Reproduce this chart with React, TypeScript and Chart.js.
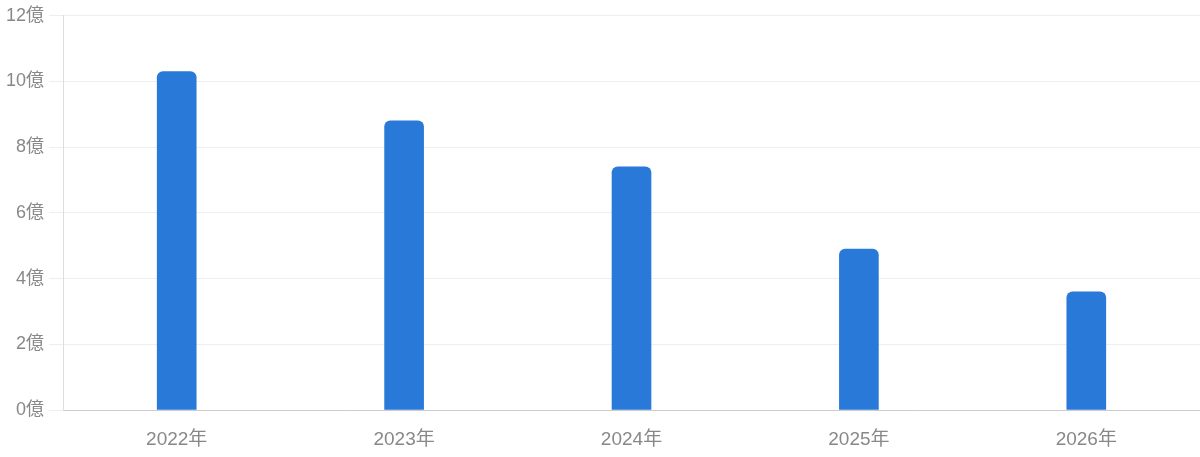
import React, { useEffect, useRef } from "react";
import { Chart, registerables } from "chart.js";

Chart.register(...registerables);

const categories = ["2022年", "2023年", "2024年", "2025年", "2026年"];
const values = [10.3, 8.8, 7.4, 4.9, 3.6];
const yTicks = [0, 2, 4, 6, 8, 10, 12];

const FONT = "'Liberation Sans', 'Noto Sans CJK JP', sans-serif";

export default function App() {
  const ref = useRef<HTMLCanvasElement | null>(null);

  useEffect(() => {
    document.body.style.margin = "0";
    if (!ref.current) return;
    const chart = new Chart(ref.current, {
      type: "bar",
      data: {
        labels: categories,
        datasets: [
          {
            data: values,
            backgroundColor: "#2979d8",
            borderRadius: { topLeft: 6, topRight: 6, bottomLeft: 0, bottomRight: 0 },
            borderSkipped: false,
            barThickness: 39,
          },
        ],
      },
      options: {
        animation: false,
        responsive: false,
        maintainAspectRatio: false,
        layout: { padding: { left: 0, top: 8, right: 0, bottom: 0 } },
        plugins: { legend: { display: false }, tooltip: { enabled: false } },
        scales: {
          x: {
            grid: { display: false, drawTicks: false },
            border: { display: true, color: "#cccccc", width: 1 },
            ticks: {
              color: "#888888",
              font: { family: FONT, size: 19 },
              padding: 18,
            },
            afterFit: (axis: any) => {
              axis.height = 47;
            },
          },
          y: {
            min: 0,
            max: 12,
            afterBuildTicks: (axis: any) => {
              axis.ticks = yTicks.map((v) => ({ value: v }));
            },
            afterFit: (axis: any) => {
              axis.width = 63;
            },
            grid: { color: "#eeeeee", lineWidth: 1, tickLength: 14 },
            border: { display: true, color: "#dddddd", width: 1 },
            ticks: {
              color: "#888888",
              font: { family: FONT, size: 18 },
              padding: 5,
              callback: (v: any) => `${v}億`,
            },
          },
        },
      },
    });
    return () => chart.destroy();
  }, []);

  return (
    <div style={{ width: 1200, height: 457 }}>
      <canvas ref={ref} width={1200} height={457} style={{ width: 1200, height: 457 }} />
    </div>
  );
}
